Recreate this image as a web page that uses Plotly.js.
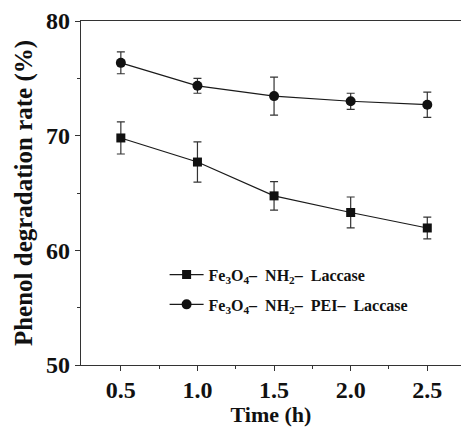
<!DOCTYPE html>
<html><head><meta charset="utf-8">
<script src="https://cdn.plot.ly/plotly-3.0.1.min.js"></script>
<style>body{margin:0;padding:0;background:#fff}#c{width:461px;height:427px}</style>
</head><body><div id="c"></div>
<script>
const time = [0.5, 1.0, 1.5, 2.0, 2.5];
const laccase = [69.8, 67.7, 64.75, 63.3, 61.95];
const laccaseErr = [1.4, 1.75, 1.25, 1.35, 0.95];
const peiLaccase = [76.35, 74.35, 73.45, 73.0, 72.7];
const peiLaccaseErr = [0.95, 0.65, 1.65, 0.7, 1.1];
const name1 = 'Fe<sub>3</sub>O<sub>4</sub>–  NH<sub>2</sub>–  Laccase';
const name2 = 'Fe<sub>3</sub>O<sub>4</sub>–  NH<sub>2</sub>–  PEI–  Laccase';

const font = 'Liberation Serif, Times New Roman, serif';
const traces = [
  {x: time, y: laccase, name: name1, legendgroup: 'a', mode: 'lines+markers', type: 'scatter',
   line: {color: '#1a1a1a', width: 1.2}, marker: {symbol: 'square', size: 9, color: '#111'},
   error_y: {type: 'data', array: laccaseErr, visible: true, color: '#333', thickness: 1.2, width: 4}},
  {x: time, y: peiLaccase, name: name2, legendgroup: 'b', mode: 'lines+markers', type: 'scatter',
   line: {color: '#1a1a1a', width: 1.2}, marker: {symbol: 'circle', size: 10, color: '#111'},
   error_y: {type: 'data', array: peiLaccaseErr, visible: true, color: '#333', thickness: 1.2, width: 4}}
];
const layout = {
  width: 461, height: 427,
  margin: {l: 81, r: 0, t: 21, b: 62},
  paper_bgcolor: '#fff', plot_bgcolor: '#fff',
  font: {family: font, color: '#111'},
  showlegend: true,
  legend: {x: 0.22, y: 0.312, xanchor: 'left', yanchor: 'top', bgcolor: 'rgba(0,0,0,0)',
    traceorder: 'grouped', tracegroupgap: 6,
    font: {family: font, size: 16, color: '#111', weight: 'bold'}, itemwidth: 34},
  xaxis: {range: [0.24, 2.72], tickvals: time, ticktext: ['0.5','1.0','1.5','2.0','2.5'],
    showline: true, linecolor: '#333', linewidth: 1.2, mirror: true, ticks: 'outside', ticklen: 5, tickcolor: '#333',
    showgrid: false, zeroline: false, ticklabelstandoff: -2,
    minor: {tickvals: [0.75, 1.25, 1.75, 2.25], ticks: 'outside', ticklen: 3, tickcolor: '#333', showgrid: false},
    tickfont: {family: font, size: 24, weight: 'bold', color: '#111'},
    title: {text: 'Time (h)', font: {family: font, size: 22, weight: 'bold', color: '#111'}, standoff: 2}},
  yaxis: {range: [50, 80], tickvals: [50, 60, 70, 80],
    showline: true, linecolor: '#333', linewidth: 1.2, ticks: 'outside', ticklen: 5, tickcolor: '#333',
    showgrid: false, zeroline: false,
    minor: {tickvals: [55, 65, 75], ticks: 'outside', ticklen: 3, tickcolor: '#333', showgrid: false},
    tickfont: {family: font, size: 24, weight: 'bold', color: '#111'},
    title: {text: 'Phenol degradation rate (%)', font: {family: font, size: 25, weight: 'bold', color: '#111'}, standoff: 6}}
};
Plotly.newPlot('c', traces, layout, {displayModeBar: false, staticPlot: true});
</script></body></html>
